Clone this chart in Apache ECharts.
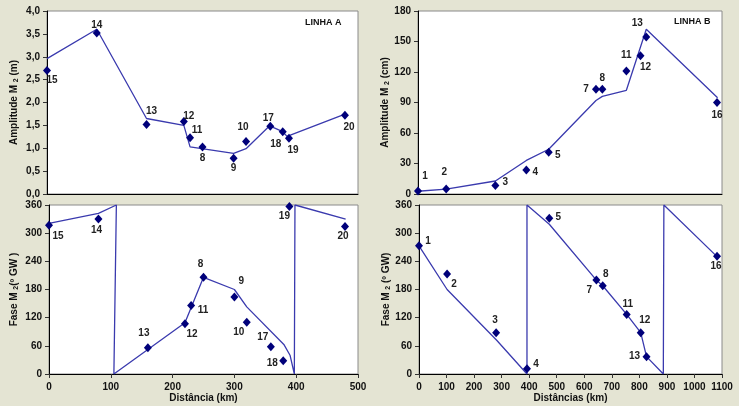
<!DOCTYPE html>
<html>
<head>
<meta charset="utf-8">
<script src="https://cdn.jsdelivr.net/npm/echarts@6/dist/echarts.min.js"></script>
<style>
html,body{margin:0;padding:0;background:#e4e4d3;}
#c{width:739px;height:406px;}
</style>
</head>
<body>
<div id="c"></div>
<script>
// ---- Linha A stations ----
var stationsA = ['15','14','13','12','11','8','9','10','17','18','19','20'];
var distA     = [0, 80, 160, 220, 230, 250, 300, 320, 359, 379, 389, 479];
var ampA_obs  = [2.70, 3.52, 1.52, 1.585, 1.23, 1.03, 0.78, 1.15, 1.48, 1.36, 1.22, 1.72];
var phaseA_obs= [317, 330, 56, 107, 146, 206, 164, 110, 58, 28, 357, 314];
// model lines (Linha A)
var ampA_modX = [0, 80, 160, 220, 230, 300, 320, 358, 378, 386, 478];
var ampA_modY = [2.96, 3.6, 1.65, 1.50, 1.03, 0.89, 0.99, 1.49, 1.37, 1.26, 1.74];
var phA_modX  = [0, 80, 109, 105, 220, 250, 300, 320, 380, 390, 397, 398, 480];
var phA_modY  = [321, 342, 360, 0, 109, 206, 180, 143, 63, 40, 0, 360, 330];

// ---- Linha B stations ----
var stationsB = ['1','2','3','4','5','7','8','11','12','13','16'];
var distB     = [0, 102, 280, 392, 473, 644, 667, 754, 805, 826, 1082];
var ampB_obs  = [3, 5, 8.3, 23.5, 41, 103, 103, 121, 136, 154.5, 90];
var phaseB_obs= [273, 213, 88, 11, 332, 200, 188, 127, 88, 37, 251];
var ampB_modX = [0, 102, 280, 392, 473, 644, 667, 754, 826, 1084];
var ampB_modY = [2.7, 4.7, 12.8, 33, 44, 92, 96, 102, 162, 94.6];
var phB_modX  = [0, 102, 282, 392, 392, 473, 644, 667, 754, 805, 826, 887, 889, 1082];
var phB_modY  = [273, 180, 72, 0, 360, 319, 200, 188, 127, 88, 37, 0, 360, 250];

// tick settings
var ampA_ticks = {min:0, max:4, interval:0.5};
var ampB_ticks = {min:0, max:180, interval:30};
var phase_ticks = {min:0, max:360, interval:60};
var distA_ticks = {min:0, max:500, interval:100};
var distB_ticks = {min:0, max:1100, interval:100};

// label offsets (presentation only)
var offTL = {'15':[5,10],'14':[0,-8],'13':[5,-13],'12':[5,-5],'11':[7,-7],'8':[0,11],'9':[0,10],'10':[-3,-14],'17':[-2,-8],'18':[-7,12],'19':[4,12],'20':[4,12]};
var offTR = {'1':[7,-15],'2':[-2,-17],'3':[10,-3],'4':[9,2],'5':[9,3],'7':[-10,0],'8':[0,-11],'11':[0,-16],'12':[5,12],'13':[-9,-14],'16':[0,13]};
var offBL = {'15':[9,11],'14':[-2,11],'13':[-4,-14],'12':[7,10],'11':[12,5],'8':[-3,-13],'9':[7,-16],'10':[-8,10],'17':[-8,-10],'18':[-11,2],'19':[-5,10],'20':[-2,10]};
var offBR = {'1':[9,-5],'2':[7,10],'3':[-1,-12],'4':[9,-5],'5':[9,-1],'7':[-7,10],'8':[3,-11],'11':[1,-10],'12':[4,-12],'13':[-12,0],'16':[-1,10]};

var FONT = 'Arial, "Liberation Sans", sans-serif';
var lineColor = '#3a3aae';
var markColor = '#00007a';

function zip(xs, ys){ return xs.map(function(x,i){ return [x, ys[i]]; }); }
function obs(xs, ys, names, offs){
  return xs.map(function(x,i){
    return {value:[x, ys[i]], name:names[i],
      label:{show:true, position:'inside', offset:offs[names[i]] || [0,0], formatter:names[i]}};
  });
}

function xAxis(gi, t, showLabels, name){
  return {
    type:'value', gridIndex:gi, min:t.min, max:t.max, interval:t.interval,
    axisLine:{show:true, onZero:false, lineStyle:{color:'#000', width:1}},
    axisTick:{show:showLabels, inside:false, length:4, lineStyle:{color:'#333'}},
    axisLabel:{show:showLabels, color:'#111', fontWeight:'bold', fontSize:10, fontFamily:FONT, margin:8,
      formatter:function(v){ return String(v); }},
    splitLine:{show:false},
    name: name || '', nameLocation:'middle', nameGap:19,
    nameTextStyle:{color:'#111', fontWeight:'bold', fontSize:10, fontFamily:FONT}
  };
}
function yAxis(gi, t, name, gap, fmt){
  return {
    type:'value', gridIndex:gi, min:t.min, max:t.max, interval:t.interval,
    axisLine:{show:true, lineStyle:{color:'#000', width:1}},
    axisTick:{show:true, inside:false, length:4, lineStyle:{color:'#333'}},
    axisLabel:{color:'#111', fontWeight:'bold', fontSize:10, fontFamily:FONT, margin:7,
      formatter: fmt || function(v){ return String(v); }},
    splitLine:{show:false},
    name:name, nameLocation:'middle', nameGap:gap, nameRotate:90,
    nameTextStyle:{color:'#111', fontWeight:'bold', fontSize:10, fontFamily:FONT,
      rich:{s:{fontSize:7, fontWeight:'bold', color:'#111', fontFamily:FONT, verticalAlign:'bottom', padding:[4,0,0,0]}}}
  };
}

var labelStyle = {color:'#222', fontWeight:'bold', fontSize:10, fontFamily:FONT};

function lineSeries(ai, xs, ys){
  return {type:'line', xAxisIndex:ai, yAxisIndex:ai, data:zip(xs, ys), symbol:'none',
    lineStyle:{color:lineColor, width:1.3}, z:2, animation:false};
}
function scatterSeries(ai, xs, ys, names, offs){
  return {type:'scatter', xAxisIndex:ai, yAxisIndex:ai, data:obs(xs, ys, names, offs),
    symbol:'diamond', symbolSize:[8,9], itemStyle:{color:markColor, opacity:1}, label:labelStyle, z:3, animation:false};
}

var gridBase = {show:true, backgroundColor:'#ffffff', borderColor:'#8a8a8a', borderWidth:1, containLabel:false};

var option = {
  backgroundColor:'#e4e4d3',
  animation:false,
  grid:[
    Object.assign({left:47, width:311, top:11, height:183}, gridBase),
    Object.assign({left:418, width:304, top:11, height:183}, gridBase),
    Object.assign({left:49, width:309, top:205, height:169}, gridBase),
    Object.assign({left:419, width:303, top:205, height:169}, gridBase)
  ],
  xAxis:[
    xAxis(0, distA_ticks, false),
    xAxis(1, distB_ticks, false),
    xAxis(2, distA_ticks, true, 'Distância (km)'),
    xAxis(3, distB_ticks, true, 'Distâncias (km)')
  ],
  yAxis:[
    yAxis(0, ampA_ticks, 'Amplitude M {s|2} (m)', 27, function(v){ return v.toFixed(1).replace('.', ','); }),
    yAxis(1, ampB_ticks, 'Amplitude M {s|2} (cm)', 27),
    yAxis(2, phase_ticks, 'Fase M {s|2}(º GW )', 29),
    yAxis(3, phase_ticks, 'Fase M {s|2} (º GW)', 27)
  ],
  graphic:[
    {type:'text', left:305, top:18, style:{text:'LINHA A', font:'bold 9px ' + FONT, fill:'#111'}},
    {type:'text', left:674, top:17, style:{text:'LINHA B', font:'bold 9px ' + FONT, fill:'#111'}}
  ],
  series:[
    lineSeries(0, ampA_modX, ampA_modY),
    scatterSeries(0, distA, ampA_obs, stationsA, offTL),
    lineSeries(1, ampB_modX, ampB_modY),
    scatterSeries(1, distB, ampB_obs, stationsB, offTR),
    lineSeries(2, phA_modX, phA_modY),
    scatterSeries(2, distA, phaseA_obs, stationsA, offBL),
    lineSeries(3, phB_modX, phB_modY),
    scatterSeries(3, distB, phaseB_obs, stationsB, offBR)
  ]
};

var chart = echarts.init(document.getElementById('c'), null, {renderer:'canvas'});
chart.setOption(option);
</script>
</body>
</html>
